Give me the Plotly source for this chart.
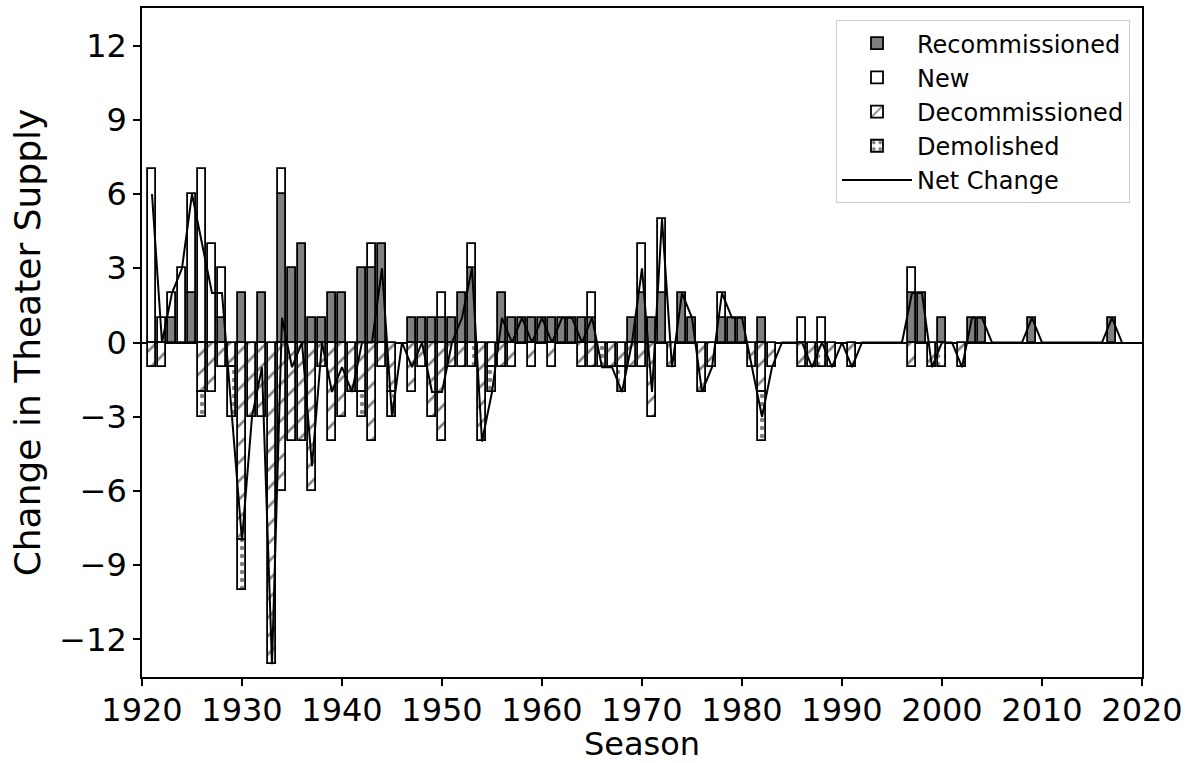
import plotly.graph_objects as go

# Seasons 1921-2018
seasons = list(range(1921, 2019))

# Theaters returning to use each season
recommissioned = [
    0, 0, 1, 0, 2, 0, 0, 1, 0, 2,      # 1921-1930
    0, 2, 0, 6, 3, 4, 1, 1, 2, 2,      # 1931-1940
    0, 3, 3, 4, 0, 0, 1, 1, 1, 1,      # 1941-1950
    1, 2, 3, 0, 0, 2, 1, 1, 1, 1,      # 1951-1960
    1, 1, 1, 1, 1, 0, 0, 0, 1, 2,      # 1961-1970
    1, 2, 0, 2, 1, 0, 0, 1, 1, 1,      # 1971-1980
    0, 1, 0, 0, 0, 0, 0, 0, 0, 0,      # 1981-1990
    0, 0, 0, 0, 0, 0, 2, 2, 0, 1,      # 1991-2000
    0, 0, 1, 1, 0, 0, 0, 0, 1, 0,      # 2001-2010
    0, 0, 0, 0, 0, 0, 1, 0,            # 2011-2018
]

# Newly built theaters
new = [
    7, 1, 1, 3, 4, 7, 4, 2, 0, 0,
    0, 0, 0, 1, 0, 0, 0, 0, 0, 0,
    0, 0, 1, 0, 0, 0, 0, 0, 0, 1,
    0, 0, 1, 0, 0, 0, 0, 0, 0, 0,
    0, 0, 0, 0, 1, 0, 0, 0, 0, 2,
    0, 3, 0, 0, 0, 0, 0, 1, 0, 0,
    0, 0, 0, 0, 0, 1, 0, 1, 0, 0,
    0, 0, 0, 0, 0, 0, 1, 0, 0, 0,
    0, 0, 0, 0, 0, 0, 0, 0, 0, 0,
    0, 0, 0, 0, 0, 0, 0, 0,
]

# Theaters taken out of use (plotted below zero)
decommissioned = [
    -1, -1, 0, 0, 0, -2, -2, -1, -1, -8,
    -3, -3, -13, -6, -4, -4, -6, -1, -4, -3,
    -2, -2, -4, -1, -2, 0, -2, -1, -3, -4,
    -1, -1, 0, -4, -1, -1, -1, 0, -1, 0,
    -1, 0, 0, -1, -1, 0, -1, -1, -1, -1,
    -3, 0, -1, 0, 0, -2, -1, 0, 0, 0,
    -1, -2, -1, 0, 0, -1, -1, 0, -1, 0,
    -1, 0, 0, 0, 0, 0, -1, 0, -1, 0,
    0, -1, 0, 0, 0, 0, 0, 0, 0, 0,
    0, 0, 0, 0, 0, 0, 0, 0,
]

# Theaters demolished (stacked under the decommissioned ones)
demolished = [
    0, 0, 0, 0, 0, -1, 0, 0, -2, -2,
    0, 0, 0, 0, 0, 0, 0, 0, 0, 0,
    0, -1, 0, 0, -1, 0, 0, 0, 0, 0,
    0, 0, -1, 0, -1, 0, 0, 0, 0, 0,
    0, 0, 0, 0, 0, -1, 0, -1, 0, 0,
    0, 0, 0, 0, 0, 0, 0, 0, 0, 0,
    0, -2, 0, 0, 0, 0, 0, -1, 0, 0,
    0, 0, 0, 0, 0, 0, 0, 0, 0, -1,
    0, 0, 0, 0, 0, 0, 0, 0, 0, 0,
    0, 0, 0, 0, 0, 0, 0, 0,
]

# Net change in theater supply per season
net_change = [
    6, 0, 2, 3, 6, 4, 2, 2, -3, -8,
    -3, -1, -13, 1, -1, 0, -5, 0, -2, -1,
    -2, 0, 0, 3, -3, 0, -1, 0, -2, -2,
    0, 1, 3, -4, -2, 1, 0, 1, 0, 1,
    0, 1, 1, 0, 1, -1, -1, -2, 0, 3,
    -2, 5, -1, 2, 1, -2, -1, 2, 1, 1,
    -1, -3, -1, 0, 0, 0, -1, 0, -1, 0,
    -1, 0, 0, 0, 0, 0, 2, 2, -1, 0,
    0, -1, 1, 1, 0, 0, 0, 0, 1, 0,
    0, 0, 0, 0, 0, 0, 1, 0,
]

x_ticks = list(range(1920, 2021, 10))
y_ticks = [-12, -9, -6, -3, 0, 3, 6, 9, 12]

FONT = "DejaVu Sans"


def nonzero(values):
    # empty seasons get no bar at all
    return [v if v != 0 else None for v in values]


edge = dict(color="black", width=1.8)

fig = go.Figure()

fig.add_trace(go.Bar(
    x=seasons, y=nonzero(recommissioned), name="Recommissioned",
    width=0.8, legendgroup="a",
    marker=dict(color="#808080", line=edge),
))
fig.add_trace(go.Bar(
    x=seasons, y=nonzero(new), name="New",
    width=0.8, legendgroup="b",
    marker=dict(color="white", line=edge),
))
fig.add_trace(go.Bar(
    x=seasons, y=nonzero(decommissioned), name="Decommissioned",
    width=0.8, legendgroup="c",
    marker=dict(color="white", line=edge,
                pattern=dict(shape="/", fgcolor="black", bgcolor="white",
                             size=13, solidity=0.2)),
))
fig.add_trace(go.Bar(
    x=seasons, y=nonzero(demolished), name="Demolished",
    width=0.8, legendgroup="d",
    marker=dict(color="white", line=edge,
                pattern=dict(shape=".", fgcolor="black", bgcolor="white",
                             size=8, solidity=0.25)),
))
fig.add_trace(go.Scatter(
    x=seasons, y=net_change, name="Net Change", mode="lines",
    legendgroup="e",
    line=dict(color="black", width=2),
))

axis_common = dict(
    showline=True, linecolor="black", linewidth=1.5, mirror=True,
    ticks="outside", ticklen=7, tickwidth=1.5, tickcolor="black",
    showgrid=False, automargin=False,
    tickfont=dict(family=FONT, size=32, color="black"),
)

fig.update_layout(
    width=1191, height=763,
    margin=dict(l=142, r=49, t=8, b=86),
    paper_bgcolor="white", plot_bgcolor="white",
    barmode="relative", bargap=0,
    font=dict(family=FONT, color="black"),
    showlegend=True,
    legend=dict(
        x=0.988, y=0.982, xanchor="right", yanchor="top",
        bgcolor="white", bordercolor="#cccccc", borderwidth=1,
        font=dict(family=FONT, size=24, color="black"),
        tracegroupgap=11, itemwidth=70,
        traceorder="normal",
    ),
    xaxis=dict(
        axis_common, range=[1920, 2020], tickvals=x_ticks,
        zeroline=False, ticklabelstandoff=-3,
    ),
    yaxis=dict(
        axis_common, range=[-13.52, 13.52], tickvals=y_ticks,
        title=dict(text="Change in Theater Supply", font=dict(family=FONT, size=36), standoff=8),
        zeroline=True, zerolinecolor="black", zerolinewidth=1.8,
    ),
)

# x-axis title set below the tick labels
fig.add_annotation(
    text="Season", xref="paper", yref="paper", x=0.5, y=-0.1,
    xanchor="center", yanchor="middle", showarrow=False, borderpad=0,
    font=dict(family=FONT, size=32, color="black"),
)

fig.write_html("out.html")
